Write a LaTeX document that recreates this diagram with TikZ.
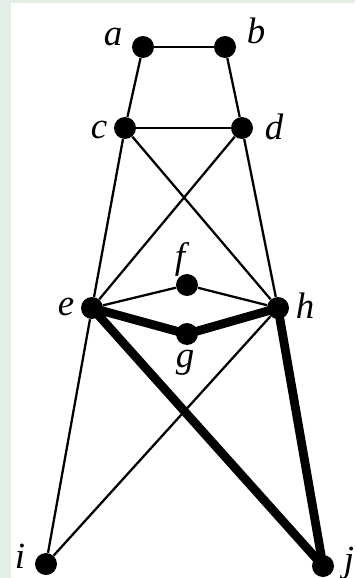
\documentclass[tikz,border=0pt]{standalone}
\usepackage{fontspec}
\setmainfont{Liberation Serif}
\usetikzlibrary{positioning}
\definecolor{PageGreen}{HTML}{E4EEE4}

\begin{document}
\begin{tikzpicture}[
  x=0.02cm, y=-0.02cm,
  vtx/.style={circle, fill=black, inner sep=0pt, minimum size=0.44cm},
  lbl/.style={font=\fontsize{21}{24}\selectfont\itshape, inner sep=0pt},
  thin edge/.style={line width=1.3pt},
  path edge/.style={line width=5pt, line cap=round, line join=round}
]
% background
\fill[PageGreen] (0,0) rectangle (355,578);
\fill[white] (11,3) rectangle (355,578);
\useasboundingbox (0,0) rectangle (355,578);

% vertices
\node[vtx] (a) at (143,47) {};
\node[vtx] (b) at (225,47) {};
\node[vtx] (c) at (125,128) {};
\node[vtx] (d) at (242,128) {};
\node[vtx] (f) at (187,285) {};
\node[vtx] (e) at (92,308) {};
\node[vtx] (g) at (187,334) {};
\node[vtx] (h) at (278,308) {};
\node[vtx] (i) at (46,564) {};
\node[vtx] (j) at (323,566) {};

% labels
\node[lbl] (a-lbl) at (113,37) {a};
\node[lbl] (b-lbl) at (256,31) {b};
\node[lbl] (c-lbl) at (99,130) {c};
\node[lbl] (d-lbl) at (274,127) {d};
\node[lbl] (f-lbl) at (180,259) {f};
\node[lbl] (e-lbl) at (66,307) {e};
\node[lbl] (g-lbl) at (185,363) {g};
\node[lbl] (h-lbl) at (305,306) {h};
\node[lbl] (i-lbl) at (20,556) {i};
\node[lbl] (j-lbl) at (349,563) {j};

% thin edges
\draw[thin edge] (a) -- (b);
\draw[thin edge] (a) -- (c);
\draw[thin edge] (b) -- (d);
\draw[thin edge] (c) -- (d);
\draw[thin edge] (c) -- (e);
\draw[thin edge] (c) -- (h);
\draw[thin edge] (d) -- (e);
\draw[thin edge] (d) -- (h);
\draw[thin edge] (e) -- (f);
\draw[thin edge] (f) -- (h);
\draw[thin edge] (e) -- (i);
\draw[thin edge] (h) -- (i);

% thick path
\draw[path edge] (e.center) -- (g.center) -- (h.center) -- (j.center) -- (e.center);
\end{tikzpicture}
\end{document}
